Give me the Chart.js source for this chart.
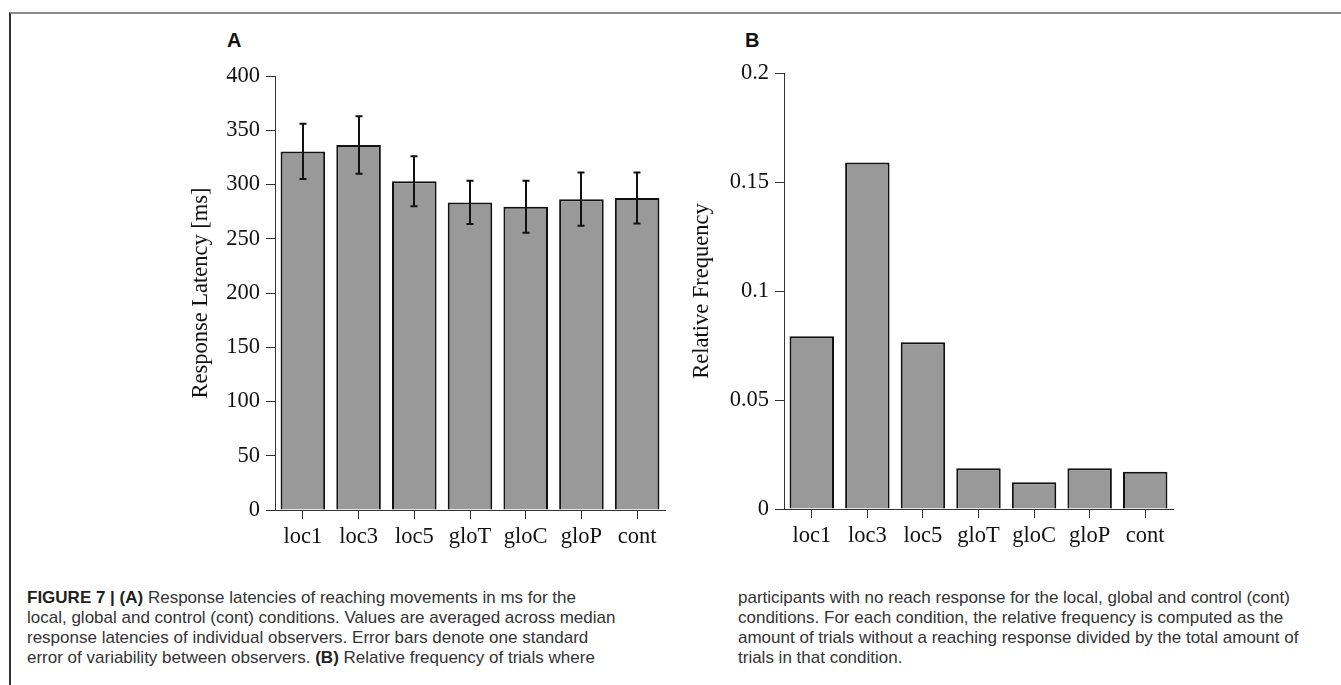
<!DOCTYPE html>
<html>
<head>
<meta charset="utf-8">
<script src="https://cdn.jsdelivr.net/npm/chart.js@4"></script>
<style>
  body { margin: 0; background: #fff; width: 1341px; height: 685px; position: relative; overflow: hidden; }
  .frame { position: absolute; left: 9px; top: 12px; width: 1332px; height: 673px;
           border-top: 2px solid #8a8a8a; border-left: 2px solid #333; box-sizing: border-box; }
  canvas { position: absolute; }
  .panel { position: absolute; font: bold 20px "Liberation Sans", Arial, sans-serif; line-height: 20px; color: #111; }
  .caption { position: absolute; top: 588px; font: 17px "Liberation Sans", Arial, sans-serif;
             line-height: 20px; color: #333; white-space: nowrap; }
  .caption b { color: #222; }
</style>
</head>
<body>
<div class="frame"></div>
<div class="panel" style="left:227px; top:30px;">A</div>
<div class="panel" style="left:745px; top:30px;">B</div>
<canvas id="chartA" width="492" height="515" style="left:188px; top:40px;"></canvas>
<canvas id="chartB" width="499" height="514" style="left:689px; top:40px;"></canvas>
<div class="caption" style="left:27px;">
  <b>FIGURE 7 | (A)</b> Response latencies of reaching movements in ms for the<br>
  local, global and control (cont) conditions. Values are averaged across median<br>
  response latencies of individual observers. Error bars denote one standard<br>
  error of variability between observers. <b>(B)</b> Relative frequency of trials where
</div>
<div class="caption" style="left:738px;">
  participants with no reach response for the local, global and control (cont)<br>
  conditions. For each condition, the relative frequency is computed as the<br>
  amount of trials without a reaching response divided by the total amount of<br>
  trials in that condition.
</div>
<script>
// -------------------------------
// Data
// -------------------------------
const conditions = ["loc1", "loc3", "loc5", "gloT", "gloC", "gloP", "cont"];

// panel A: mean response latency [ms] and standard error
const latencyMean = [330.5, 336.5, 303, 283.5, 279.5, 286.5, 287.5];
const latencySE = [25.5, 26.5, 23, 20, 24, 24.5, 23.5];
const latencyTicks = ["0", "50", "100", "150", "200", "250", "300", "350", "400"];

// panel B: relative frequency of no-reach trials
const relFreq = [0.0793, 0.1589, 0.0765, 0.0187, 0.0123, 0.0187, 0.0171];
const freqTicks = ["0", "0.05", "0.1", "0.15", "0.2"];

const serif = "'Liberation Serif', 'Times New Roman', serif";
const fontSize = 22.5;
const ink = "#111";
const axisColor = "#333";

// -------------------------------
// Error bars plugin
// -------------------------------
const errorBars = {
  id: "errorBars",
  afterDatasetsDraw(chart, args, opts) {
    if (!opts.means) return;
    const { ctx } = chart;
    const y = chart.scales.y;
    const meta = chart.getDatasetMeta(0);
    ctx.save();
    ctx.strokeStyle = ink;
    ctx.lineWidth = 2;
    meta.data.forEach((bar, i) => {
      const top = y.getPixelForValue(opts.means[i] + opts.se[i]);
      const bot = y.getPixelForValue(opts.means[i] - opts.se[i]);
      const cx = Math.round(bar.x);
      ctx.beginPath();
      ctx.moveTo(cx, top);
      ctx.lineTo(cx, bot);
      ctx.moveTo(cx - 3.5, top);
      ctx.lineTo(cx + 3.5, top);
      ctx.moveTo(cx - 3.5, bot);
      ctx.lineTo(cx + 3.5, bot);
      ctx.stroke();
    });
    ctx.restore();
  },
};

// -------------------------------
// Shared chart options
// -------------------------------
function makeOptions(yMax, yStep, tickLabels, yTitle, yWidth, padTop) {
  return {
    responsive: false,
    animation: false,
    layout: { padding: { top: padTop, right: 15, left: 0, bottom: 0 } },
    plugins: { legend: { display: false }, tooltip: { enabled: false } },
    scales: {
      x: {
        grid: { display: true, drawOnChartArea: false, drawTicks: true, tickLength: 9,
                tickColor: axisColor, offset: false },
        border: { display: true, color: axisColor, width: 1 },
        ticks: { color: ink, padding: 5, maxRotation: 0, font: { family: serif, size: fontSize } },
        afterFit: (s) => { s.height = 45; },
      },
      y: {
        min: 0,
        max: yMax,
        grid: { display: true, drawOnChartArea: false, drawTicks: true, tickLength: 9,
                tickColor: axisColor },
        border: { display: true, color: axisColor, width: 1 },
        ticks: {
          stepSize: yStep,
          color: ink,
          padding: 6,
          font: { family: serif, size: fontSize },
          callback: (v, i) => tickLabels[i],
        },
        title: { display: true, text: yTitle, color: ink, padding: 0,
                 font: { family: serif, size: fontSize } },
        afterFit: (s) => { s.width = yWidth; },
      },
    },
  };
}

function barDataset(values) {
  return {
    data: values,
    backgroundColor: "#999999",
    borderColor: ink,
    borderWidth: 2,
    borderSkipped: "bottom",
    barPercentage: 0.8,
    categoryPercentage: 1.0,
  };
}

// -------------------------------
// Panel A
// -------------------------------
const optsA = makeOptions(400, 50, latencyTicks, "Response Latency [ms]", 87, 36);
optsA.plugins.errorBars = { means: latencyMean, se: latencySE };
new Chart(document.getElementById("chartA"), {
  type: "bar",
  data: { labels: conditions, datasets: [barDataset(latencyMean)] },
  options: optsA,
  plugins: [errorBars],
});

// -------------------------------
// Panel B
// -------------------------------
new Chart(document.getElementById("chartB"), {
  type: "bar",
  data: { labels: conditions, datasets: [barDataset(relFreq)] },
  options: makeOptions(0.2, 0.05, freqTicks, "Relative Frequency", 95, 33),
});
</script>
</body>
</html>
